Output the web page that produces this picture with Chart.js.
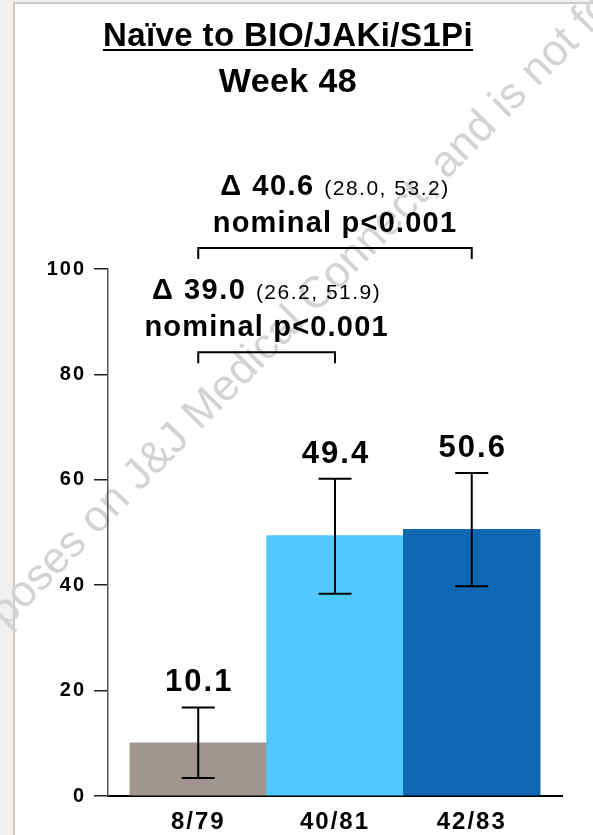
<!DOCTYPE html>
<html>
<head>
<meta charset="utf-8">
<script src="https://cdn.jsdelivr.net/npm/chart.js@4/dist/chart.umd.min.js"></script>
<style>
html, body { margin:0; padding:0; background:#f1f0ee; }
#panel { position:absolute; left:13px; top:2px; width:578px; height:831px; background:#fff;
         border-left:2px solid #cec9c3; border-top:2px solid #cec9c3; }
#chBar { position:absolute; left:0; top:0; }
</style>
</head>
<body>
<div id="panel"></div>
<canvas id="chBar" width="593" height="835"></canvas>
<script>
var categories = ['8/79', '40/81', '42/83'];
var rates = [10.1, 49.4, 50.6];
var ciLow = [3.4, 38.4, 39.8];
var ciHigh = [16.8, 60.2, 61.3];
var colors = ['#a1968f', '#50c8fc', '#1067b1'];
var yTicks = [0, 20, 40, 60, 80, 100];

// pairwise comparisons (bar index from / to)
var compFrom = [0, 0];
var compTo = [1, 2];
var deltas = ['39.0', '40.6'];
var deltaCIs = ['(26.2, 51.9)', '(28.0, 53.2)'];
var pTexts = ['nominal p<0.001', 'nominal p<0.001'];

var titleLines = ['Naïve to BIO/JAKi/S1Pi', 'Week 48'];
var watermark = ['for educational purposes ', 'on J&J Medical Connect, and is not for promotional use'];

var FONT = '"Liberation Sans", Arial, Helvetica, sans-serif';

var overlay = {
  id: 'overlay',
  beforeDraw: function (chart) {
    var ctx = chart.ctx;
    ctx.save();
    ctx.translate(97, 536);
    ctx.rotate(-45.5 * Math.PI / 180);
    ctx.font = '44px ' + FONT;
    ctx.fillStyle = '#d3d3d3';
    ctx.textBaseline = 'alphabetic';
    ctx.textAlign = 'right';
    ctx.fillText(watermark[0], 0, 0);
    ctx.textAlign = 'left';
    ctx.fillText(watermark[1], 0, 0);
    ctx.restore();
    ctx.letterSpacing = '2px';
  },
  afterDatasetsDraw: function (chart) {
    var ctx = chart.ctx, xs = chart.scales.x, ys = chart.scales.y;
    ctx.save();
    ctx.strokeStyle = '#000';
    ctx.fillStyle = '#000';
    ctx.lineWidth = 2;
    ctx.letterSpacing = '2px';

    // error bars + value labels
    for (var i = 0; i < rates.length; i++) {
      var x = xs.getPixelForValue(i);
      var yl = ys.getPixelForValue(ciLow[i]), yh = ys.getPixelForValue(ciHigh[i]);
      ctx.beginPath();
      ctx.moveTo(x, yl); ctx.lineTo(x, yh);
      ctx.moveTo(x - 16.5, yl); ctx.lineTo(x + 16.5, yl);
      ctx.moveTo(x - 16.5, yh); ctx.lineTo(x + 16.5, yh);
      ctx.stroke();
      ctx.font = 'bold 31px ' + FONT;
      ctx.textAlign = 'center';
      ctx.textBaseline = 'alphabetic';
      ctx.fillText(rates[i].toFixed(1), x + 1, yh - 16);
    }

    // comparison brackets
    var levels = [84.2, 104.0];
    for (var k = 0; k < compFrom.length; k++) {
      var x1 = xs.getPixelForValue(compFrom[k]), x2 = xs.getPixelForValue(compTo[k]);
      var yb = ys.getPixelForValue(levels[k]);
      ctx.beginPath();
      ctx.moveTo(x1, yb + 11); ctx.lineTo(x1, yb); ctx.lineTo(x2, yb); ctx.lineTo(x2, yb + 11);
      ctx.stroke();
      var cx = (x1 + x2) / 2;
      ctx.textAlign = 'left';
      ctx.letterSpacing = '1.5px';
      ctx.font = 'bold 29px ' + FONT;
      var a = '\u0394 ' + deltas[k] + ' ';
      var wa = ctx.measureText(a).width;
      ctx.font = '21px ' + FONT;
      var wb = ctx.measureText(deltaCIs[k]).width;
      var sx = cx - (wa + wb) / 2;
      ctx.font = 'bold 29px ' + FONT;
      ctx.fillText(a, sx, yb - 53);
      ctx.font = '21px ' + FONT;
      ctx.fillText(deltaCIs[k], sx + wa, yb - 53);
      ctx.letterSpacing = '1.2px';
      ctx.font = 'bold 29px ' + FONT;
      ctx.textAlign = 'center';
      ctx.fillText(pTexts[k], cx, yb - 16);
    }

    // title
    ctx.letterSpacing = '0.4px';
    ctx.font = 'bold 33px ' + FONT;
    ctx.textAlign = 'center';
    ctx.fillText(titleLines[0], 288, 46);
    var w = ctx.measureText(titleLines[0]).width;
    ctx.fillRect(288 - w / 2, 49, w, 2);
    ctx.font = 'bold 34px ' + FONT;
    ctx.fillText(titleLines[1], 288, 92);
    ctx.restore();
  }
};

new Chart(document.getElementById('chBar'), {
  type: 'bar',
  data: {
    datasets: [{
      data: rates.map(function (v, i) { return { x: i, y: v }; }),
      backgroundColor: colors,
      borderWidth: 0,
      barPercentage: 1,
      categoryPercentage: 1
    }]
  },
  options: {
    responsive: false,
    devicePixelRatio: 1,
    animation: false,
    layout: { padding: { left: 13, right: 31, top: 269, bottom: 0 } },
    plugins: { legend: { display: false }, tooltip: { enabled: false } },
    scales: {
      x: {
        type: 'linear',
        offset: false,
        min: -0.66,
        max: 2.66,
        grid: { display: false, drawTicks: false },
        border: { display: true, color: '#000', width: 2 },
        afterBuildTicks: function (s) { s.ticks = categories.map(function (c, i) { return { value: i }; }); },
        afterFit: function (s) { s.height = 39; },
        ticks: {
          callback: function (v) { return categories[v]; },
          autoSkip: false, maxRotation: 0,
          color: '#000', padding: 12,
          font: { family: FONT, weight: 'bold', size: 24 }
        }
      },
      y: {
        min: 0,
        max: 100,
        afterBuildTicks: function (s) { s.ticks = yTicks.map(function (v) { return { value: v }; }); },
        afterFit: function (s) { s.width = 95; },
        grid: { drawOnChartArea: false, tickLength: 14, color: '#222', lineWidth: 1.5 },
        border: { display: true, color: '#555', width: 1.5 },
        ticks: { color: '#000', padding: 8, font: { family: FONT, weight: 'bold', size: 20 } }
      }
    }
  },
  plugins: [overlay]
});
</script>
</body>
</html>
